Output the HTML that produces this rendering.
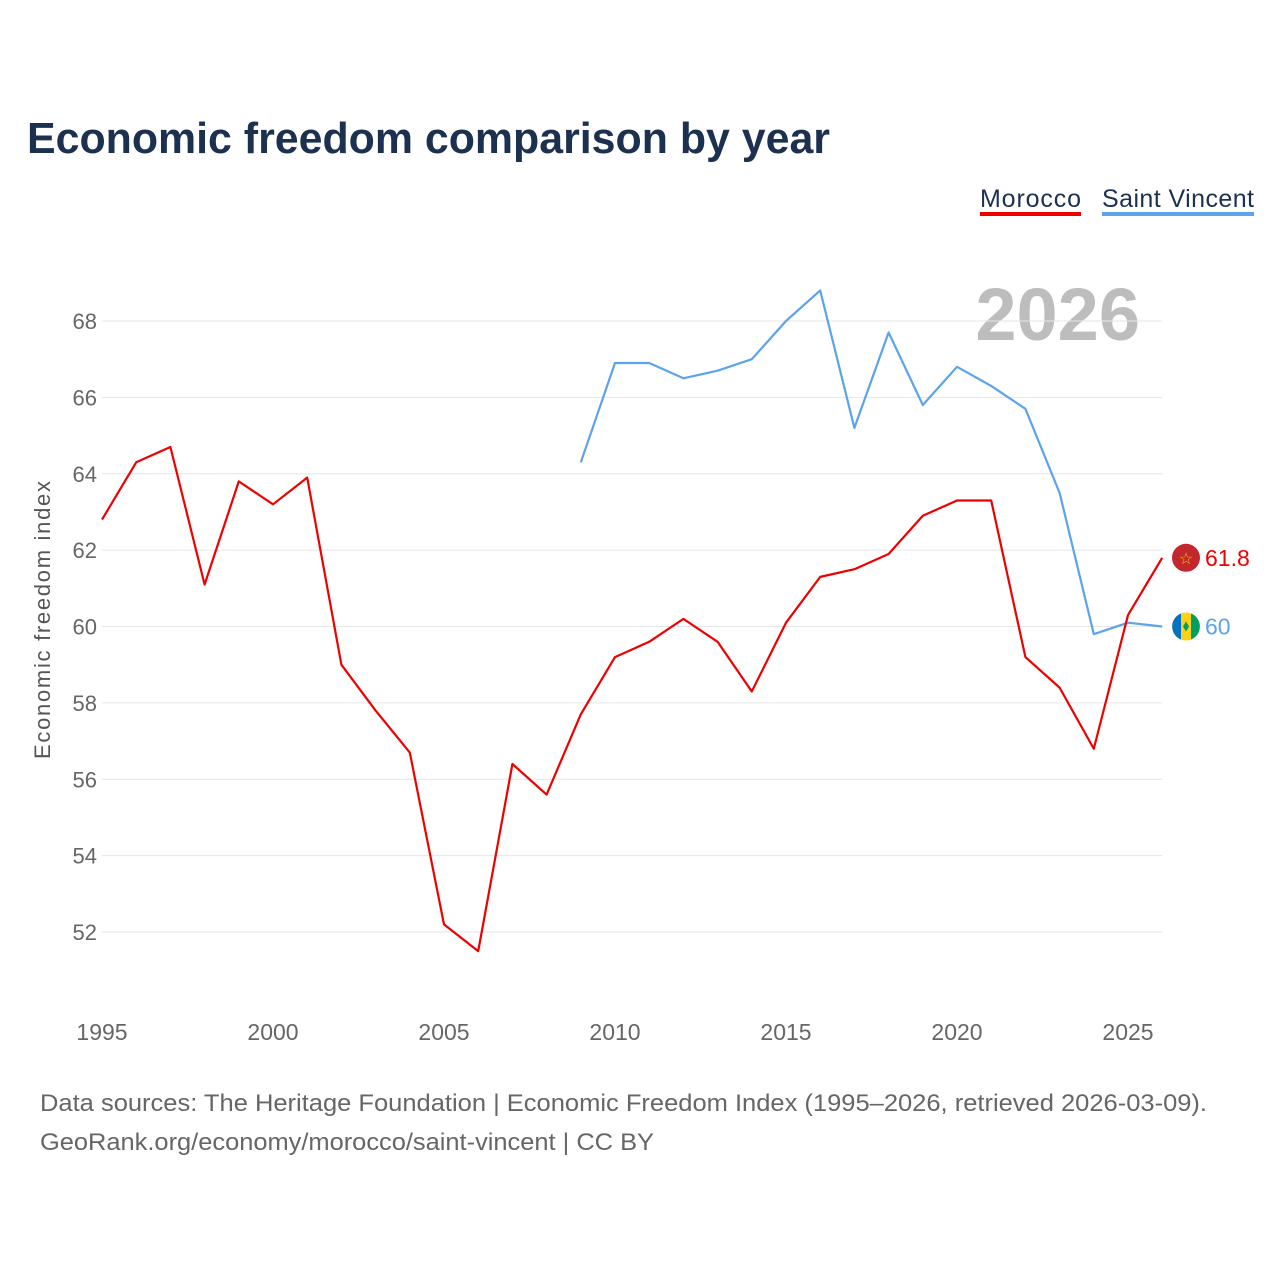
<!DOCTYPE html>
<html><head><meta charset="utf-8"><style>
body{margin:0;background:#fff;font-family:"Liberation Sans",sans-serif}
</style></head><body>
<svg id="chart" width="1280" height="1280" xmlns="http://www.w3.org/2000/svg">
<text x="27" y="153" font-size="44" font-weight="bold" fill="#1c3050" textLength="803" lengthAdjust="spacingAndGlyphs">Economic freedom comparison by year</text>
<g><text x="980" y="207" font-size="25" fill="#1c3050" textLength="101">Morocco</text><rect x="980" y="212" width="101" height="4" fill="#ee0000"/></g>
<g><text x="1102" y="207" font-size="25" fill="#1c3050" textLength="152">Saint Vincent</text><rect x="1102" y="212" width="152" height="4" fill="#5ba3ea"/></g>
<text x="1140" y="340" font-size="74" font-weight="bold" fill="#bdbdbd" text-anchor="end">2026</text>
<text transform="translate(50,620) rotate(-90)" font-size="22" fill="#555" text-anchor="middle" textLength="278">Economic freedom index</text>
<g id="grid"></g><g id="yticks"></g><g id="xticks"></g><g id="lines"></g>
<text x="40" y="1111" font-size="24" fill="#666" textLength="1167" lengthAdjust="spacingAndGlyphs">Data sources: The Heritage Foundation | Economic Freedom Index (1995–2026, retrieved 2026-03-09).</text>
<text x="40" y="1150" font-size="24" fill="#666" textLength="614" lengthAdjust="spacingAndGlyphs">GeoRank.org/economy/morocco/saint-vincent | CC BY</text>
</svg>
<script>
const years=[1995,1996,1997,1998,1999,2000,2001,2002,2003,2004,2005,2006,2007,2008,2009,2010,2011,2012,2013,2014,2015,2016,2017,2018,2019,2020,2021,2022,2023,2024,2025,2026];
const morocco=[62.8,64.3,64.7,61.1,63.8,63.2,63.9,59.0,57.8,56.7,52.2,51.5,56.4,55.6,57.7,59.2,59.6,60.2,59.6,58.3,60.1,61.3,61.5,61.9,62.9,63.3,63.3,59.2,58.4,56.8,60.3,61.8];
const svYears=[2009,2010,2011,2012,2013,2014,2015,2016,2017,2018,2019,2020,2021,2022,2023,2024,2025,2026];
const saintVincent=[64.3,66.9,66.9,66.5,66.7,67.0,68.0,68.8,65.2,67.7,65.8,66.8,66.3,65.7,63.5,59.8,60.1,60.0];
const yTicks=[52,54,56,58,60,62,64,66,68];
const xTicks=[1995,2000,2005,2010,2015,2020,2025];
const NS="http://www.w3.org/2000/svg";
const X=y=>102+(y-1995)*34.2;
const Y=v=>321+(68-v)*38.19;
function el(t,a,p){const e=document.createElementNS(NS,t);for(const k in a)e.setAttribute(k,a[k]);document.getElementById(p).appendChild(e);return e;}
yTicks.forEach(v=>{
 const l=el('line',{x1:102,x2:1162,y1:Y(v),y2:Y(v),stroke:'#e6e6e6','stroke-width':1},'grid');
 
 
 const t=el('text',{x:97,y:Y(v)+8,'font-size':22,fill:'#666','text-anchor':'end'},'yticks');t.textContent=v;
 
 
});
xTicks.forEach(v=>{
 const t=el('text',{x:X(v),y:1040,'font-size':23,fill:'#666','text-anchor':'middle'},'xticks');t.textContent=v;
 
 
});
function line(xs,vs,c,name,flag){
 const p=el('polyline',{points:xs.map((y,i)=>X(y)+','+Y(vs[i])).join(' '),fill:'none',stroke:c,'stroke-width':2.2,'stroke-linejoin':'round'},'lines');
 
 
 const lv=vs[vs.length-1],ly=Y(lv);
 if(flag==='ma'){
  const c1=el('circle',{cx:1186,cy:ly,r:14,fill:'#c1272d'},'lines');
  
  
  const s=el('text',{x:1186,y:ly+6,'font-size':16,fill:'#f5c400','text-anchor':'middle'},'lines');s.textContent='☆';
 } else {
  const g=el('g',{},'lines');
  
  
  el('circle',{cx:1186,cy:ly,r:14,fill:'#fcd116'},'lines');
  el('path',{d:`M1186 ${ly-14} A14 14 0 0 0 1186 ${ly+14} L1181 ${ly+14} L1181 ${ly-14}Z`,fill:'none'},'lines');
  el('path',{d:`M1181 ${ly-13} A14 14 0 0 0 1181 ${ly+13} Z`,fill:'#0072c6'},'lines');
  el('path',{d:`M1191 ${ly-13} A14 14 0 0 1 1191 ${ly+13} Z`,fill:'#009e60'},'lines');
  el('path',{d:`M1186 ${ly-5} l3 5 l-3 5 l-3 -5Z`,fill:'#009e60'},'lines');
 }
 const t=el('text',{x:1205,y:ly+8,'font-size':23,fill:c},'lines');t.textContent=lv;
 
 
}
line(svYears,saintVincent,'#5ba3ea','saint-vincent-line','vc');
line(years,morocco,'#ee0000','morocco-line','ma');
</script>
</body></html>
